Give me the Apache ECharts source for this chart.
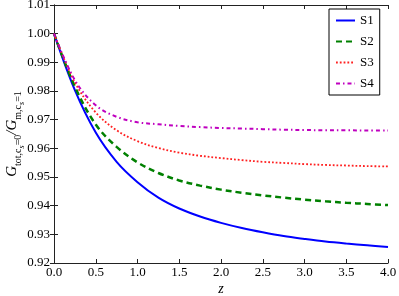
<!DOCTYPE html>
<html><head><meta charset="utf-8">
<script src="https://cdn.jsdelivr.net/npm/echarts@6/dist/echarts.min.js"></script>
<style>html,body{margin:0;padding:0;background:#fff}#c{width:399px;height:296px}</style>
</head><body><div id="c"></div>
<script>
const zValues = [0, 0.25, 0.5, 0.75, 1.0, 1.25, 1.5, 1.75, 2.0, 2.25, 2.5, 2.75, 3.0, 3.25, 3.5, 3.75, 4.0];
const s1 = [1.000, 0.9803, 0.9655, 0.9553, 0.9482, 0.9428, 0.9390, 0.9362, 0.9340, 0.9322, 0.9307, 0.9294, 0.9284, 0.9275, 0.9268, 0.9262, 0.9256];
const s2 = [1.000, 0.9815, 0.9683, 0.9605, 0.9551, 0.9514, 0.9488, 0.9470, 0.9456, 0.9445, 0.9436, 0.9428, 0.9421, 0.9415, 0.9410, 0.9406, 0.9402];
const s3 = [1.000, 0.9830, 0.9725, 0.9663, 0.9625, 0.9601, 0.9585, 0.9574, 0.9566, 0.9559, 0.9553, 0.9549, 0.9545, 0.9542, 0.9540, 0.9538, 0.9537];
const s4 = [1.000, 0.9838, 0.9750, 0.9710, 0.9691, 0.9684, 0.9678, 0.9674, 0.9671, 0.9669, 0.9667, 0.9665, 0.9664, 0.9663, 0.9663, 0.9662, 0.9662];
const seriesNames = ['S1', 'S2', 'S3', 'S4'];
const xTicks = { min: 0, max: 4, interval: 0.5 };
const yTicks = { min: 0.92, max: 1.01, interval: 0.01 };

const font = 'Liberation Serif';
const pairs = arr => zValues.map((z, i) => [z, arr[i]]);
const styles = [
  { color: '#0000ff', width: 2, type: 'solid' },
  { color: '#008000', width: 2.5, type: [6, 4] },
  { color: '#ff2020', width: 1.8, type: [1.8, 2] },
  { color: '#bf00bf', width: 2, type: [4, 3, 1.5, 3] }
];
const allData = [s1, s2, s3, s4];

const axisCommon = {
  axisLine: { show: true, lineStyle: { color: '#222', width: 1 } },
  axisTick: { show: true, inside: true, length: 4, lineStyle: { color: '#222' } },
  splitLine: { show: false }
};

const chart = echarts.init(document.getElementById('c'), null, { renderer: 'canvas' });
chart.setOption({
  animation: false,
  backgroundColor: '#fff',
  grid: { left: 54, right: 11, top: 5, bottom: 33, containLabel: false, outerBoundsMode: 'none' },
  legend: {
    orient: 'vertical', left: 329, top: 9,
    padding: [5, 6, 5, 6],
    itemWidth: 19, itemHeight: 8, itemGap: 8,
    backgroundColor: '#fff', borderColor: '#000', borderWidth: 1,
    itemStyle: { opacity: 0 },
    textStyle: { fontFamily: font, fontSize: 13, color: '#000' },
    data: seriesNames
  },
  xAxis: [
    Object.assign({ type: 'value', min: xTicks.min, max: xTicks.max, interval: xTicks.interval, position: 'bottom',
      name: 'z', nameLocation: 'middle', nameGap: 19, nameMoveOverlap: false,
      nameTextStyle: { fontFamily: font, fontStyle: 'italic', fontSize: 14, color: '#000' },
      axisLabel: { fontFamily: font, fontSize: 13, color: '#000', margin: 3, formatter: v => v.toFixed(1) } }, axisCommon),
    Object.assign({ type: 'value', min: xTicks.min, max: xTicks.max, interval: xTicks.interval, position: 'top',
      axisLabel: { show: false } }, axisCommon)
  ],
  yAxis: [
    Object.assign({ type: 'value', min: yTicks.min, max: yTicks.max, interval: yTicks.interval, position: 'left',
      name: '{g|G}{s|tot,c}{ss|s}{s|=0}{g|/G}{s|m,c}{ss|s}{s|=1}',
      nameLocation: 'middle', nameGap: 31, nameRotate: 90, nameMoveOverlap: false,
      nameTextStyle: {
        fontFamily: font, color: '#000',
        rich: {
          g: { fontFamily: font, fontStyle: 'italic', fontSize: 15, color: '#000', lineHeight: 22, verticalAlign: 'middle' },
          s: { fontFamily: font, fontSize: 10, color: '#000', lineHeight: 22, verticalAlign: 'bottom' },
          ss: { fontFamily: font, fontStyle: 'italic', fontSize: 8, color: '#000', lineHeight: 22, verticalAlign: 'bottom', padding: [0, 0, -3, 0] }
        }
      },
      axisLabel: { fontFamily: font, fontSize: 13, color: '#000', margin: 4, formatter: v => v.toFixed(2) } }, axisCommon),
    Object.assign({ type: 'value', min: yTicks.min, max: yTicks.max, interval: yTicks.interval, position: 'right',
      axisLabel: { show: false } }, axisCommon)
  ],
  series: seriesNames.map((n, i) => ({
    name: n, type: 'line', xAxisIndex: 0, yAxisIndex: 0,
    data: pairs(allData[i]), smooth: 0.35, showSymbol: false, symbol: 'none',
    lineStyle: styles[i], itemStyle: { color: styles[i].color }
  }))
});
</script></body></html>
